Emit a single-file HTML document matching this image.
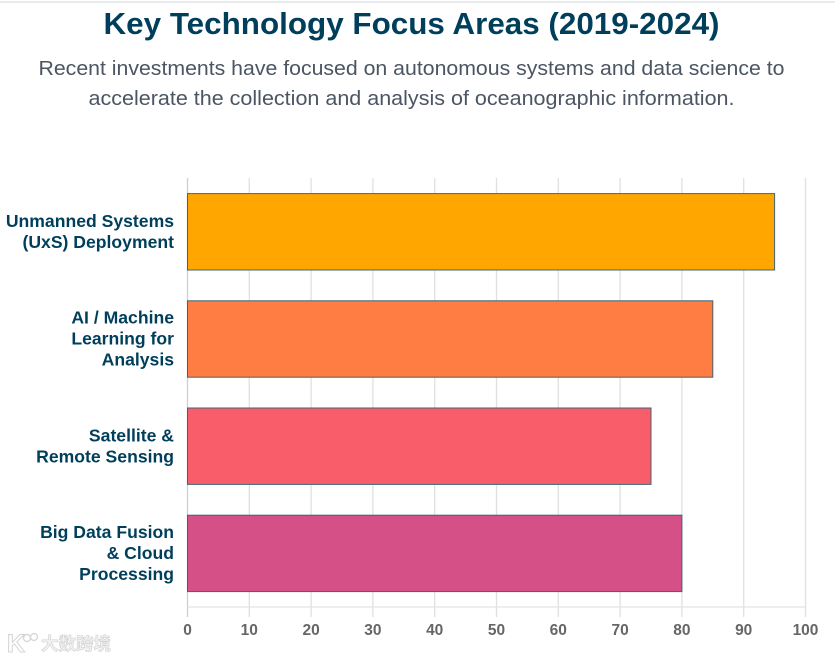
<!DOCTYPE html>
<html lang="en">
<head>
<meta charset="utf-8">
<title>Key Technology Focus Areas (2019-2024)</title>
<style>
html,body{margin:0;padding:0;background:#fff;width:835px;height:659px;overflow:hidden}
svg{display:block;font-family:"Liberation Sans",sans-serif}
</style>
</head>
<body>
<svg id="chart" width="835" height="659" viewBox="0 0 835 659" xmlns="http://www.w3.org/2000/svg">
  <rect x="0" y="1" width="835" height="2" fill="#e9ecef"/>
  <text x="411.5" y="34" text-anchor="middle" font-size="31" font-weight="700" fill="#003f5c" textLength="616" lengthAdjust="spacingAndGlyphs">Key Technology Focus Areas (2019-2024)</text>
  <text x="411.5" y="75" text-anchor="middle" font-size="20.5" fill="#4b5563" textLength="746" lengthAdjust="spacingAndGlyphs">Recent investments have focused on autonomous systems and data science to</text>
  <text x="411.5" y="105" text-anchor="middle" font-size="20.5" fill="#4b5563" textLength="646" lengthAdjust="spacingAndGlyphs">accelerate the collection and analysis of oceanographic information.</text>
  <g id="grid"></g>
  <g id="bars"></g>
  <g id="ylabels"></g>
  <g id="xlabels"></g>
  <g opacity="0.9">
    <text x="7" y="652" font-size="25" font-weight="700" fill="#fff" stroke="#d0d0d0" stroke-width="1">K</text>
    <circle cx="27" cy="638" r="3.5" fill="none" stroke="#d0d0d0" stroke-width="1.3"/>
    <circle cx="34" cy="637" r="3.5" fill="none" stroke="#d0d0d0" stroke-width="1.3"/>
    <text x="41" y="650" font-size="17.5" font-weight="700" fill="#f2f2f2" stroke="#cacaca" stroke-width="0.6" style="font-family:'Liberation Sans','Noto Sans CJK SC',sans-serif">大数跨境</text>
  </g>
</svg>
<script>
const categories = [
  ["Unmanned Systems", "(UxS) Deployment"],
  ["AI / Machine", "Learning for", "Analysis"],
  ["Satellite &", "Remote Sensing"],
  ["Big Data Fusion", "& Cloud", "Processing"]
];
const focusValues = [95, 85, 75, 80];
const barColors = ["#ffa600", "#ff7c43", "#f95d6a", "#d45087"];
const xTicks = [0, 10, 20, 30, 40, 50, 60, 70, 80, 90, 100];

const NS = "http://www.w3.org/2000/svg";
const plot = { left: 187.5, right: 805.5, top: 178, bottom: 607, bandTop: 178, bandStep: 107.2, barInset: 15.6, barHeight: 76.4 };
const xMax = xTicks[xTicks.length - 1];
function xScale(v) { return plot.left + (v / xMax) * (plot.right - plot.left); }
function bandY(i) { return plot.bandTop + i * plot.bandStep + plot.barInset; }
function make(tag, attrs, parent) {
  const el = document.createElementNS(NS, tag);
  for (const k in attrs) el.setAttribute(k, attrs[k]);
  parent.appendChild(el);
  return el;
}
const grid = document.getElementById("grid");
const barsG = document.getElementById("bars");
const yG = document.getElementById("ylabels");
const xG = document.getElementById("xlabels");

xTicks.forEach(function (t) {
  const line = make("line", { x1: xScale(t), x2: xScale(t), y1: plot.top, y2: plot.bottom + 10, stroke: t === 0 ? "#cfcfcf" : "#e0e0e0", "stroke-width": 1.3 }, grid);
  
  
  const label = make("text", { x: xScale(t), y: 635, "text-anchor": "middle", "font-size": 15.5, "font-weight": 700, fill: "#666666" }, xG);
  label.textContent = String(t);
  
  
});
const axisLine = make("line", { x1: plot.left, x2: plot.right, y1: plot.bottom, y2: plot.bottom, stroke: "#e3e3e3", "stroke-width": 1.3 }, grid);



focusValues.forEach(function (v, i) {
  const bar = make("rect", { x: plot.left, y: bandY(i), width: xScale(v) - plot.left, height: plot.barHeight, fill: barColors[i], stroke: "#3f6475", "stroke-width": 1 }, barsG);
  
  
  const lines = categories[i];
  const cy = bandY(i) + plot.barHeight / 2;
  lines.forEach(function (txt, j) {
    const y = cy + (j - (lines.length - 1) / 2) * 21 + 5.7;
    const label = make("text", { x: 174, y: y, "text-anchor": "end", "font-size": 17.6, "font-weight": 700, fill: "#003f5c" }, yG);
    label.textContent = txt;
    
    
  });
});
</script>
</body>
</html>
